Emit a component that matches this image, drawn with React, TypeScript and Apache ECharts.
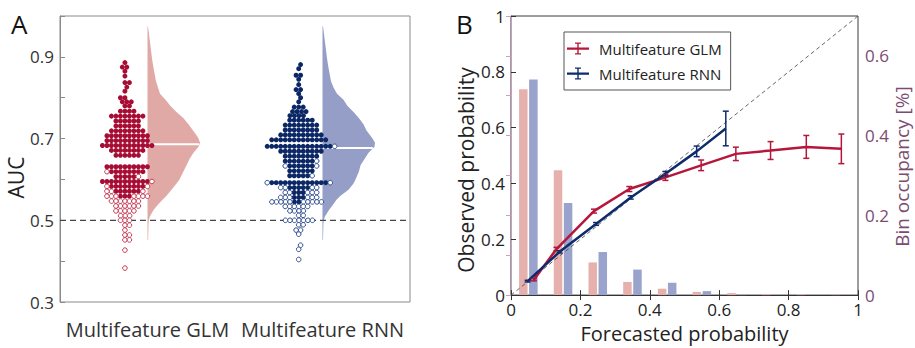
import React, { useEffect, useRef } from "react";
import * as echarts from "echarts";

const FONT = "'Open Sans', 'Noto Sans', sans-serif";

// ---------------- Panel A data ----------------
const categories = ["Multifeature GLM", "Multifeature RNN"];

// AUC per model, filled = significant, open = not significant
const glmFilled = [
  0.886, 0.875, 0.875, 0.865, 0.853, 0.837, 0.837, 0.826, 0.816, 0.8, 0.8, 0.79, 0.79, 0.79, 0.78, 0.78,
  0.767, 0.767, 0.767, 0.767,
  0.755, 0.755, 0.755, 0.755, 0.755, 0.755, 0.755, 0.755,
  0.743, 0.743, 0.743, 0.743, 0.743, 0.743,
  0.731, 0.731, 0.731, 0.731, 0.731, 0.731,
  0.719, 0.719, 0.719, 0.719, 0.719, 0.719, 0.719, 0.719,
  0.707, 0.707, 0.707, 0.707, 0.707, 0.707, 0.707, 0.707, 0.707, 0.707,
  0.695, 0.695, 0.695, 0.695, 0.695, 0.695, 0.695, 0.695, 0.695, 0.695,
  0.683, 0.683, 0.683, 0.683, 0.683, 0.683, 0.683, 0.683, 0.683, 0.683, 0.683, 0.683,
  0.671, 0.671, 0.671, 0.671, 0.671, 0.671, 0.671, 0.671,
  0.659, 0.659, 0.659, 0.659, 0.659, 0.659,
  0.631, 0.631, 0.631, 0.631, 0.631, 0.631, 0.631, 0.631, 0.631, 0.631,
  0.619, 0.619, 0.619, 0.619, 0.619, 0.619, 0.619, 0.619,
  0.607, 0.607, 0.607, 0.607, 0.607,
  0.595, 0.595, 0.595, 0.595, 0.595, 0.595, 0.595, 0.595, 0.595, 0.595, 0.595,
  0.583, 0.583, 0.583, 0.583, 0.583, 0.583, 0.583, 0.583,
  0.571, 0.571, 0.571, 0.571, 0.571, 0.571,
  0.559, 0.559, 0.559,
];
const glmOpen = [
  0.619, 0.607, 0.595, 0.583, 0.583, 0.571, 0.571, 0.571,
  0.559, 0.559, 0.559, 0.559, 0.559, 0.559, 0.559,
  0.547, 0.547, 0.547, 0.547, 0.547, 0.547, 0.547,
  0.535, 0.535, 0.535, 0.535, 0.535, 0.535,
  0.523, 0.523, 0.523, 0.523, 0.523,
  0.511, 0.511, 0.511, 0.5, 0.5, 0.5, 0.488, 0.488, 0.476, 0.464, 0.464, 0.452, 0.452, 0.427, 0.383,
];
const rnnFilled = [
  0.881, 0.871, 0.855, 0.855, 0.845, 0.832, 0.82, 0.82, 0.81, 0.8, 0.79, 0.777, 0.777, 0.777,
  0.766, 0.766, 0.766, 0.766, 0.756, 0.756, 0.756, 0.756,
  0.745, 0.745, 0.745, 0.745, 0.745, 0.745,
  0.733, 0.733, 0.733, 0.733, 0.733, 0.733, 0.733, 0.733,
  0.721, 0.721, 0.721, 0.721, 0.721, 0.721, 0.721, 0.721,
  0.709, 0.709, 0.709, 0.709, 0.709, 0.709, 0.709, 0.709, 0.709, 0.709,
  0.697, 0.697, 0.697, 0.697, 0.697, 0.697, 0.697, 0.697, 0.697, 0.697, 0.697, 0.697, 0.697,
  0.681, 0.681, 0.681, 0.681, 0.681, 0.681, 0.681, 0.681, 0.681, 0.681, 0.681, 0.681, 0.681, 0.681, 0.681,
  0.669, 0.669, 0.669, 0.669, 0.669, 0.669, 0.669, 0.669, 0.669, 0.669,
  0.657, 0.657, 0.657, 0.657, 0.657, 0.657, 0.657, 0.657,
  0.645, 0.645, 0.645, 0.645, 0.645, 0.645, 0.645,
  0.633, 0.633, 0.633, 0.633, 0.633, 0.633,
  0.621, 0.621, 0.621, 0.621, 0.621, 0.621,
  0.609, 0.609, 0.609, 0.609, 0.609,
  0.592, 0.592, 0.592, 0.592, 0.592, 0.592, 0.592, 0.592, 0.592, 0.592, 0.592, 0.592, 0.592,
  0.58, 0.58, 0.58, 0.58, 0.58,
  0.568, 0.568, 0.568, 0.556, 0.556, 0.556, 0.545, 0.545,
];
const rnnOpen = [
  0.681, 0.645, 0.633, 0.633, 0.609, 0.592, 0.592,
  0.58, 0.58, 0.58, 0.58, 0.568, 0.568, 0.568, 0.568, 0.568,
  0.556, 0.556, 0.556, 0.556, 0.556, 0.556,
  0.545, 0.545, 0.545, 0.545, 0.545, 0.545, 0.545, 0.545, 0.545, 0.545,
  0.534, 0.534, 0.534, 0.534, 0.534, 0.534,
  0.523, 0.523, 0.523, 0.523, 0.512, 0.512,
  0.5, 0.5, 0.5, 0.5, 0.5, 0.5, 0.5,
  0.489, 0.489, 0.476, 0.476, 0.466, 0.439, 0.429, 0.404,
];

// half-violin density profiles (relative)
const violinLevels = [
  0.452, 0.47, 0.49, 0.5, 0.51, 0.525, 0.54, 0.55, 0.56, 0.575, 0.59, 0.6, 0.62, 0.635, 0.65, 0.665, 0.68,
  0.69, 0.7, 0.71, 0.72, 0.735, 0.75, 0.765, 0.78, 0.795, 0.81, 0.825, 0.84, 0.86, 0.88, 0.9, 0.93, 0.975,
];
const glmDensity = [
  0.6, 0.8, 1, 1.3, 2.5, 6, 11, 15, 19, 24, 29, 32, 36, 39, 42, 46, 51,
  52.5, 51, 48.5, 45.5, 41, 36, 29, 23, 18, 12.5, 10.5, 8.5, 7, 5.5, 4.3, 2.8, 0.5,
];
const rnnDensity = [
  0.5, 0.7, 0.9, 1.2, 2.5, 6.5, 11, 14, 18, 26, 31, 33, 36.5, 38, 42, 46, 52,
  52.5, 50, 47, 44, 41, 36.5, 31, 25, 21, 14.5, 11, 8.5, 7, 5.5, 4.3, 2.8, 0.5,
];
const medians = [0.686, 0.677];
const chanceAUC = 0.5;

// ---------------- Panel B data ----------------
const glmForecast = [0.066, 0.131, 0.239, 0.341, 0.445, 0.548, 0.648, 0.748, 0.851, 0.952];
const glmObserved = [0.055, 0.165, 0.301, 0.38, 0.422, 0.465, 0.506, 0.518, 0.531, 0.524];
const glmError = [0.004, 0.006, 0.007, 0.009, 0.011, 0.019, 0.024, 0.032, 0.041, 0.053];
const rnnForecast = [0.048, 0.14, 0.245, 0.345, 0.445, 0.535, 0.619];
const rnnObserved = [0.05, 0.155, 0.255, 0.35, 0.435, 0.515, 0.597];
const rnnError = [0.003, 0.004, 0.005, 0.006, 0.008, 0.019, 0.062];
const binCenters = [0.05, 0.15, 0.25, 0.35, 0.45, 0.55, 0.65, 0.75, 0.85, 0.95];
const glmOccupancy = [0.516, 0.313, 0.082, 0.033, 0.016, 0.008, 0.005, 0.003, 0.002, 0.001];
const rnnOccupancy = [0.541, 0.231, 0.108, 0.064, 0.031, 0.01, 0.001, 0, 0, 0];

// ---------------- layout ----------------
const A = { left: 60, top: 16, width: 350, height: 286, xMin: 0, xMax: 2, yMin: 0.3, yMax: 1.0 };
const B = { left: 511, top: 16, width: 347, height: 284 };
const pxPerX = A.width / (A.xMax - A.xMin);
const pxPerY = A.height / (A.yMax - A.yMin);
const swarmCenters = [0.371, 1.364];
const violinBases = [0.5, 1.5];
const VIOLIN_MAX_PX = 52.5;
const DOT = 4.5;

const C = {
  glmDot: "#a70d34",
  glmOpen: "#c23a52",
  rnnDot: "#0b2765",
  rnnOpen: "#2d4b8c",
  glmViolin: "#e0a9a6",
  rnnViolin: "#949ec6",
  glmBar: "#e6b1ad",
  rnnBar: "#9aa3cb",
  glmLine: "#b5173c",
  rnnLine: "#0e2b6c",
  purple: "#7b4b72",
  purpleLine: "#c9a0bb",
};

function beeswarm(filled: number[], open: number[], center: number) {
  const pts = filled.map((v) => ({ v, open: false })).concat(open.map((v) => ({ v, open: true })));
  const order = pts.map((_, i) => i).sort((a, b) => pts[a].v - pts[b].v || a - b);
  const placed: { x: number; y: number }[] = [];
  const offs = pts.map(() => 0);
  const d = DOT;
  for (const i of order) {
    const y = pts[i].v * pxPerY;
    const near = placed.filter((p) => Math.abs(p.y - y) < d);
    const cands = [0];
    for (const p of near) {
      const dx = Math.sqrt(d * d - (p.y - y) ** 2);
      cands.push(p.x + dx, p.x - dx);
    }
    cands.sort((a, b) => Math.abs(a) - Math.abs(b));
    let x = 0;
    for (const c of cands) {
      if (near.every((p) => (p.x - c) ** 2 + (p.y - y) ** 2 >= d * d - 0.01)) {
        x = c;
        break;
      }
    }
    placed.push({ x, y });
    offs[i] = x;
  }
  const f: number[][] = [];
  const o: number[][] = [];
  pts.forEach((p, i) => {
    const pt = [center + offs[i] / pxPerX, p.v];
    (p.open ? o : f).push(pt);
  });
  return { filled: f, open: o };
}

function interp(levels: number[], vals: number[], v: number) {
  for (let k = 0; k < levels.length - 1; k++) {
    if (v >= levels[k] && v <= levels[k + 1]) {
      const t = (v - levels[k]) / (levels[k + 1] - levels[k]);
      return vals[k] + t * (vals[k + 1] - vals[k]);
    }
  }
  return 0;
}

function buildOption() {
  const glmSwarm = beeswarm(glmFilled, glmOpen, swarmCenters[0]);
  const rnnSwarm = beeswarm(rnnFilled, rnnOpen, swarmCenters[1]);
  const densities = [glmDensity, rnnDensity];
  const violinColors = [C.glmViolin, C.rnnViolin];

  const errorBarSeries = (name: string, xs: number[], ys: number[], es: number[], color: string) => ({
    type: "custom",
    name: name + " err",
    xAxisIndex: 1,
    yAxisIndex: 1,
    z: 6,
    silent: true,
    data: xs.map((x, i) => [x, ys[i], es[i]]),
    renderItem: (_p: any, api: any) => {
      const x = api.value(0);
      const y = api.value(1);
      const e = api.value(2);
      const t = api.coord([x, y + e]);
      const b = api.coord([x, y - e]);
      const cap = 3;
      const st = { stroke: color, lineWidth: 1.5 };
      return {
        type: "group",
        children: [
          { type: "line", shape: { x1: t[0], y1: t[1], x2: b[0], y2: b[1] }, style: st },
          { type: "line", shape: { x1: t[0] - cap, y1: t[1], x2: t[0] + cap, y2: t[1] }, style: st },
          { type: "line", shape: { x1: b[0] - cap, y1: b[1], x2: b[0] + cap, y2: b[1] }, style: st },
        ],
      };
    },
  });

  const barSeries = (name: string, occ: number[], shift: number, color: string) => ({
    type: "custom",
    name,
    xAxisIndex: 1,
    yAxisIndex: 2,
    z: 1,
    silent: true,
    data: binCenters.map((c, i) => [c + shift, occ[i]]),
    renderItem: (_p: any, api: any) => {
      const top = api.coord([api.value(0), api.value(1)]);
      const base = api.coord([api.value(0), 0]);
      const w = 8.5;
      return {
        type: "rect",
        shape: { x: top[0] - w / 2, y: top[1], width: w, height: base[1] - top[1] },
        style: { fill: color },
      };
    },
  });

  const legendIcon =
    "path://M0,5L22,5L22,7.2L0,7.2Z M10.3,0L11.7,0L11.7,12L10.3,12Z M8,0L14,0L14,1.3L8,1.3Z M8,10.7L14,10.7L14,12L8,12Z";

  return {
    animation: false,
    backgroundColor: "#ffffff",
    textStyle: { fontFamily: FONT },
    grid: [
      { left: A.left, top: A.top, width: A.width, height: A.height, show: true, borderColor: "#8a8a8a", borderWidth: 1 },
      { left: B.left, top: B.top, width: B.width, height: B.height, show: true, borderColor: "#3a3a3a", borderWidth: 1 },
    ],
    legend: {
      data: [
        { name: "Multifeature GLM", icon: legendIcon },
        { name: "Multifeature RNN", icon: legendIcon },
      ],
      orient: "vertical",
      left: 564,
      top: 32,
      padding: [9, 9, 9, 3],
      itemGap: 10,
      itemWidth: 22,
      itemHeight: 12,
      borderColor: "#555",
      borderWidth: 1,
      borderRadius: 0,
      backgroundColor: "#ffffff",
      selectedMode: false,
      textStyle: { fontSize: 15, color: "#222", fontFamily: FONT, padding: [0, 0, 0, 5] },
    },
    xAxis: [
      {
        gridIndex: 0,
        type: "value",
        min: A.xMin,
        max: A.xMax,
        interval: 0.5,
        axisLine: { show: false },
        axisTick: { show: false },
        splitLine: { show: false },
        axisLabel: {
          formatter: (v: number) => (v === violinBases[0] ? categories[0] : v === violinBases[1] ? categories[1] : ""),
          fontSize: 20,
          color: "#333",
          margin: 17,
          fontFamily: FONT,
        },
      },
      {
        gridIndex: 1,
        type: "value",
        min: 0,
        max: 1,
        interval: 0.2,
        position: "bottom",
        axisLine: { show: true, lineStyle: { color: "#333", width: 1 } },
        axisTick: { inside: true, length: 5, lineStyle: { color: "#333" } },
        splitLine: { show: false },
        axisLabel: { fontSize: 17, color: "#222", margin: 6, fontFamily: FONT },
        name: "Forecasted probability",
        nameLocation: "middle",
        nameGap: 21,
        nameTextStyle: { fontSize: 20, color: "#222", fontFamily: FONT },
      },
      {
        gridIndex: 1,
        type: "value",
        min: 0,
        max: 1,
        interval: 0.2,
        position: "top",
        axisLine: { show: true, lineStyle: { color: "#333", width: 1 } },
        axisTick: { inside: true, length: 5, lineStyle: { color: "#333" } },
        axisLabel: { show: false },
        splitLine: { show: false },
      },
    ],
    yAxis: [
      {
        gridIndex: 0,
        type: "value",
        min: A.yMin,
        max: A.yMax,
        interval: 0.1,
        axisLine: { show: true, lineStyle: { color: "#8a8a8a" } },
        axisTick: { inside: true, length: 5, lineStyle: { color: "#8a8a8a" } },
        splitLine: { show: false },
        axisLabel: {
          formatter: (v: number) => {
            const k = Math.round(v * 10);
            return k % 2 === 1 && k < 10 ? (k / 10).toFixed(1) : "";
          },
          fontSize: 17,
          color: "#333",
          margin: 6,
          fontFamily: FONT,
        },
        name: "AUC",
        nameLocation: "middle",
        nameGap: 27,
        nameRotate: 90,
        nameTextStyle: { fontSize: 21, color: "#222", fontFamily: FONT, padding: [0, 37, 0, 0] },
      },
      {
        gridIndex: 1,
        type: "value",
        min: 0,
        max: 1,
        interval: 0.2,
        position: "left",
        axisLine: { show: true, lineStyle: { color: "#333" } },
        axisTick: { inside: true, length: 5, lineStyle: { color: "#333" } },
        splitLine: { show: false },
        axisLabel: { fontSize: 17, color: "#222", margin: 6, fontFamily: FONT },
        name: "Observed probability",
        nameLocation: "middle",
        nameGap: 35,
        nameRotate: 90,
        nameTextStyle: { fontSize: 21, color: "#222", fontFamily: FONT, padding: [0, 29, 0, 0] },
      },
      {
        gridIndex: 1,
        type: "value",
        min: 0,
        max: 0.7,
        interval: 0.1,
        position: "right",
        axisLine: { show: true, lineStyle: { color: C.purpleLine } },
        axisTick: { inside: true, length: 5, lineStyle: { color: C.purpleLine } },
        splitLine: { show: false },
        axisLabel: {
          formatter: (v: number) => {
            const k = Math.round(v * 10);
            return k % 2 === 0 && k < 7 ? (k === 0 ? "0" : (k / 10).toFixed(1)) : "";
          },
          fontSize: 17,
          color: C.purple,
          margin: 7,
          fontFamily: FONT,
        },
        name: "Bin occupancy [%]",
        nameLocation: "middle",
        nameGap: 32,
        nameRotate: 90,
        nameTextStyle: { fontSize: 19, color: C.purple, fontFamily: FONT, padding: [0, 22, 0, 0] },
      },
    ],
    graphic: [
      { type: "text", left: 11, top: 11, style: { text: "A", fontSize: 26, fill: "#111", fontFamily: FONT } },
      { type: "text", left: 456, top: 11, style: { text: "B", fontSize: 26, fill: "#111", fontFamily: FONT } },
    ],
    series: [
      // ---- Panel A ----
      {
        type: "custom",
        name: "violins",
        xAxisIndex: 0,
        yAxisIndex: 0,
        z: 1,
        silent: true,
        data: violinBases.map((b, i) => [b, medians[i], i]),
        renderItem: (_p: any, api: any) => {
          const base = api.value(0);
          const med = api.value(1);
          const idx = api.value(2);
          const dens = densities[idx];
          const maxD = Math.max(...glmDensity, ...rnnDensity);
          const pts: number[][] = [];
          violinLevels.forEach((v, k) => {
            const p = api.coord([base, v]);
            pts.push([p[0] + (dens[k] / maxD) * VIOLIN_MAX_PX, p[1]]);
          });
          for (let k = violinLevels.length - 1; k >= 0; k--) {
            pts.push(api.coord([base, violinLevels[k]]));
          }
          const m = api.coord([base, med]);
          const wm = (interp(violinLevels, dens, med) / maxD) * VIOLIN_MAX_PX;
          return {
            type: "group",
            children: [
              { type: "polygon", shape: { points: pts }, style: { fill: violinColors[idx] } },
              {
                type: "line",
                shape: { x1: m[0], y1: m[1], x2: m[0] + wm - 0.5, y2: m[1] },
                style: { stroke: "#ffffff", lineWidth: 2 },
              },
            ],
          };
        },
      },
      {
        type: "line",
        name: "chance",
        xAxisIndex: 0,
        yAxisIndex: 0,
        z: 2,
        silent: true,
        showSymbol: false,
        data: [
          [A.xMin, chanceAUC],
          [A.xMax, chanceAUC],
        ],
        lineStyle: { color: "#444", width: 1.2, type: [6, 4] },
      },
      {
        type: "scatter",
        name: "GLM significant",
        xAxisIndex: 0,
        yAxisIndex: 0,
        z: 3,
        silent: true,
        symbolSize: 5,
        data: glmSwarm.filled,
        itemStyle: { color: C.glmDot, opacity: 1 },
      },
      {
        type: "scatter",
        name: "GLM n.s.",
        xAxisIndex: 0,
        yAxisIndex: 0,
        z: 4,
        silent: true,
        symbolSize: 4.6,
        data: glmSwarm.open,
        itemStyle: { color: "#ffffff", borderColor: C.glmOpen, borderWidth: 1, opacity: 1 },
      },
      {
        type: "scatter",
        name: "RNN significant",
        xAxisIndex: 0,
        yAxisIndex: 0,
        z: 3,
        silent: true,
        symbolSize: 5,
        data: rnnSwarm.filled,
        itemStyle: { color: C.rnnDot, opacity: 1 },
      },
      {
        type: "scatter",
        name: "RNN n.s.",
        xAxisIndex: 0,
        yAxisIndex: 0,
        z: 4,
        silent: true,
        symbolSize: 4.6,
        data: rnnSwarm.open,
        itemStyle: { color: "#ffffff", borderColor: C.rnnOpen, borderWidth: 1, opacity: 1 },
      },
      // ---- Panel B ----
      barSeries("GLM occupancy", glmOccupancy, -0.0145, C.glmBar),
      barSeries("RNN occupancy", rnnOccupancy, 0.0145, C.rnnBar),
      {
        type: "line",
        name: "diagonal",
        xAxisIndex: 1,
        yAxisIndex: 1,
        z: 2,
        silent: true,
        showSymbol: false,
        data: [
          [0, 0],
          [1, 1],
        ],
        lineStyle: { color: "#555", width: 0.9, type: [4, 3] },
      },
      {
        type: "line",
        name: "Multifeature GLM",
        xAxisIndex: 1,
        yAxisIndex: 1,
        z: 4,
        silent: true,
        showSymbol: false,
        data: glmForecast.map((x, i) => [x, glmObserved[i]]),
        lineStyle: { color: C.glmLine, width: 2.5 },
        itemStyle: { color: C.glmLine },
      },
      {
        type: "line",
        name: "Multifeature RNN",
        xAxisIndex: 1,
        yAxisIndex: 1,
        z: 5,
        silent: true,
        showSymbol: false,
        data: rnnForecast.map((x, i) => [x, rnnObserved[i]]),
        lineStyle: { color: C.rnnLine, width: 2.5 },
        itemStyle: { color: C.rnnLine },
      },
      errorBarSeries("Multifeature GLM", glmForecast, glmObserved, glmError, C.glmLine),
      errorBarSeries("Multifeature RNN", rnnForecast, rnnObserved, rnnError, C.rnnLine),
    ],
  };
}

export default function App() {
  const ref = useRef<HTMLDivElement>(null);
  useEffect(() => {
    if (!ref.current) return;
    const chart = echarts.init(ref.current, undefined, { renderer: "svg" });
    chart.setOption(buildOption() as any);
    return () => chart.dispose();
  }, []);
  return (
    <div
      ref={ref}
      style={{ position: "fixed", left: 0, top: 0, width: 915, height: 348, background: "#ffffff" }}
    />
  );
}
